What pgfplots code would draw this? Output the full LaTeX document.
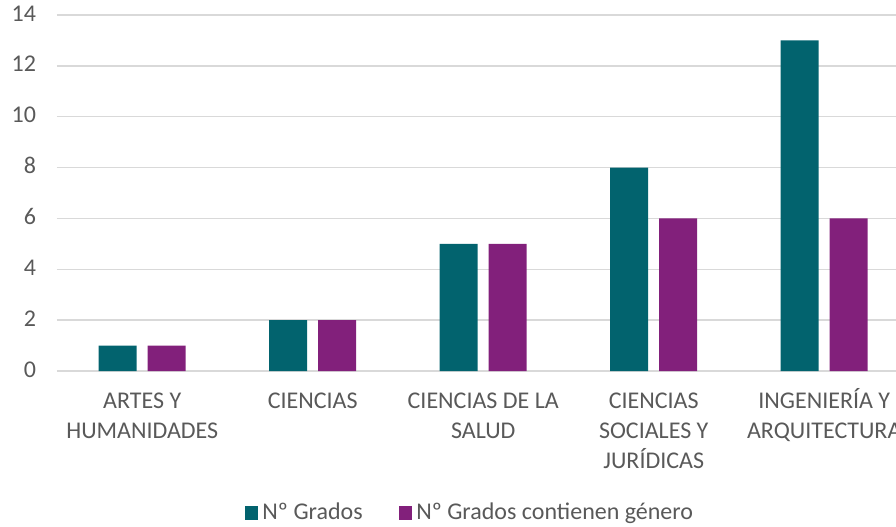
\documentclass[border=0pt]{standalone}
\usepackage{fontspec}
\setmainfont{Carlito}
\usepackage{pgfplots}
\pgfplotsset{compat=1.18}
\definecolor{cA}{HTML}{02636E}
\definecolor{cB}{HTML}{82207B}
\definecolor{txt}{HTML}{595959}
\definecolor{gridc}{HTML}{D9D9D9}

\begin{document}
\begin{tikzpicture}
\begin{axis}[
  name=ax,
  scale only axis, width=426.25pt, height=178pt,
  xmin=-0.5, xmax=4.5, ymin=0, ymax=14,
  ytick={0,2,...,14},
  xtick={0,...,4},
  xticklabels={ARTES Y\\HUMANIDADES, CIENCIAS, CIENCIAS DE LA\\SALUD, CIENCIAS\\SOCIALES Y\\JURÍDICAS, INGENIERÍA Y\\ARQUITECTURA},
  typeset ticklabels with strut,
  xticklabel style={align=center, font=\fontsize{12}{15}\selectfont, text=txt, yshift=-4.7pt},
  yticklabel style={font=\fontsize{12}{15}\selectfont, text=txt, xshift=-7pt},
  /pgf/number format/assume math mode=true,
  axis line style={draw=none},
  major tick length=0pt,
  ymajorgrids, grid style={gridc, line width=0.75pt},
  ybar=5.5pt, bar width=19pt,
  legend style={at={(0.4856,-0.399)}, anchor=center, draw=none, fill=none,
    legend columns=2, font=\fontsize{12}{15}\selectfont, text=txt,
    /tikz/every even column/.append style={column sep=16pt}},
  legend image code/.code={\fill[#1] (-1.5pt,-3.4pt) rectangle (5.3pt,3.4pt);},
]
\addplot[fill=cA, draw=none] coordinates {(0,1) (1,2) (2,5) (3,8) (4,13)};
\addplot[fill=cB, draw=none] coordinates {(0,1) (1,2) (2,5) (3,6) (4,6)};
\legend{Nº Grados, Nº Grados contienen género}
\end{axis}
\pgfresetboundingbox
\path[use as bounding box] ([shift={(-28.5pt,-77.5pt)}]ax.south west) rectangle ([shift={(419.5pt,185.5pt)}]ax.south west);
\end{tikzpicture}
\end{document}
